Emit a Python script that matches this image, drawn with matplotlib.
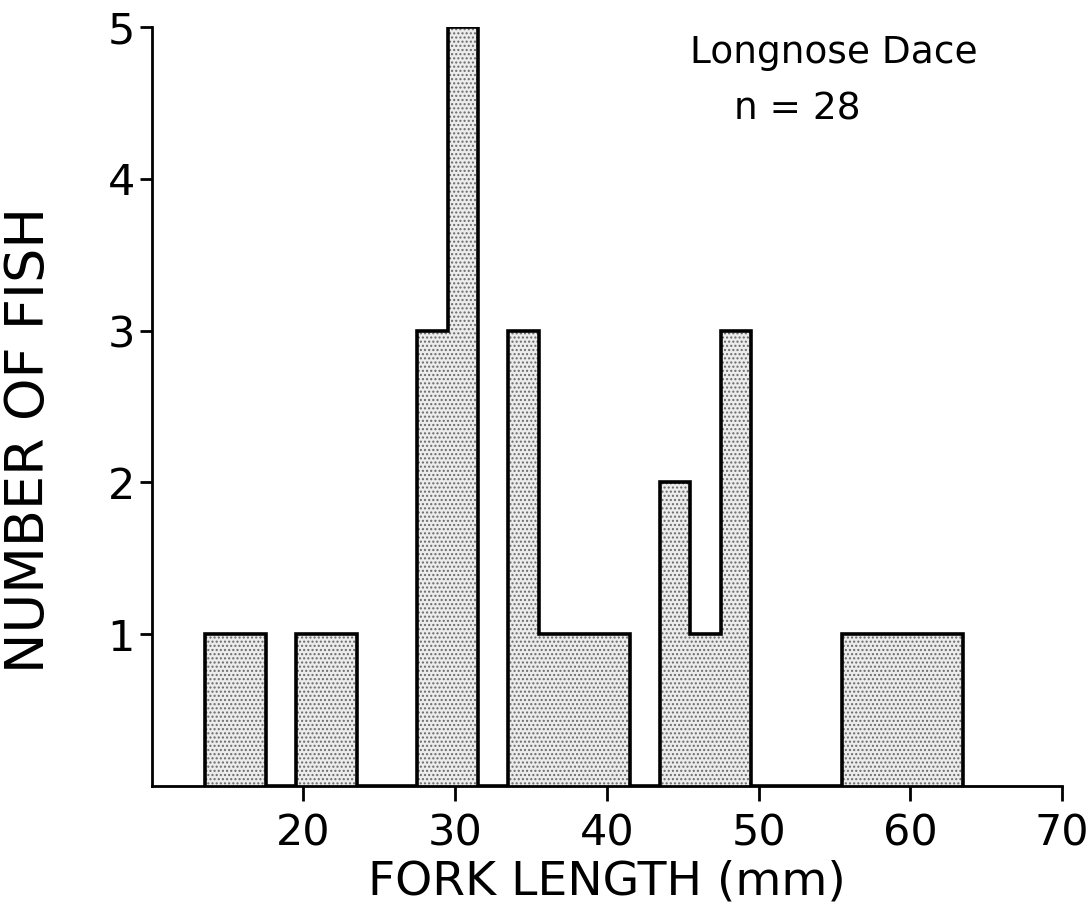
import numpy as np
import matplotlib
matplotlib.use("Agg")
import matplotlib.pyplot as plt

# histogram of fork lengths, 2 mm bins
bin_edges = [13.5, 15.5, 17.5, 19.5, 21.5, 23.5, 25.5, 27.5, 29.5, 31.5, 33.5,
             35.5, 37.5, 39.5, 41.5, 43.5, 45.5, 47.5, 49.5, 51.5, 53.5, 55.5,
             57.5, 59.5, 61.5, 63.5]
counts = [1, 1, 0, 1, 1, 0, 0, 3, 5, 0, 3, 1, 1, 1, 0, 2, 1, 3, 0, 0, 0, 1, 1, 1, 1]

x_ticks = [20, 30, 40, 50, 60, 70]
y_ticks = [1, 2, 3, 4, 5]
species = "Longnose Dace"
n_label = "n = 28"

plt.rcParams['font.family'] = ['DejaVu Sans']
plt.rcParams['hatch.linewidth'] = 1.0

fig = plt.figure(figsize=(10.92, 9.10), dpi=100)
ax = fig.add_axes([0.139, 0.1363, 0.8335, 0.834])

# stippled fill (hatch takes the edge colour), then the step outline on top
ax.stairs(counts, bin_edges, fill=True, facecolor='#ececec', edgecolor='#6a6a6a',
          hatch='....', linewidth=0)
ax.stairs(counts, bin_edges, fill=False, color='black', linewidth=2.6, baseline=0)

ax.set_xlim(10, 70)
ax.set_ylim(0, 5)
ax.set_xticks(x_ticks)
ax.set_yticks(y_ticks)

for side in ['top', 'right']:
    ax.spines[side].set_visible(False)
for side in ['left', 'bottom']:
    ax.spines[side].set_linewidth(2.0)

ax.tick_params(axis='x', direction='out', length=11, width=2.0, pad=8, labelsize=31)
ax.tick_params(axis='y', direction='out', length=9, width=2.0, pad=3, labelsize=31)

ax.set_xlabel("FORK LENGTH (mm)", fontsize=34, labelpad=4)
ax.set_ylabel("NUMBER OF FISH", fontsize=39)
ax.yaxis.set_label_coords(-0.106, 0.456)

ax.text(0.749, 0.99, species, transform=ax.transAxes, ha='center', va='top', fontsize=27)
ax.text(0.709, 0.915, n_label, transform=ax.transAxes, ha='center', va='top', fontsize=27)

fig.savefig("out.png", dpi=100)
